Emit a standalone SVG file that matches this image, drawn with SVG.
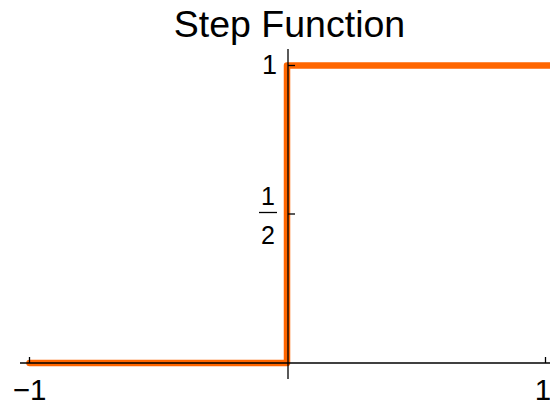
<svg xmlns="http://www.w3.org/2000/svg" width="550" height="407" viewBox="0 0 550 407">
<style>
text{font-family:"Liberation Sans",Arial,sans-serif;fill:#000}
.ax{stroke:#000;stroke-width:1.3;fill:none}
.curve{stroke:#FF6600;stroke-width:6.5;fill:none;stroke-linejoin:round;stroke-linecap:round}
</style>
<rect width="550" height="407" fill="#fff"/>
<text id="title" x="289.5" y="37" font-size="37.5" text-anchor="middle">Step Function</text>
<g id="curve">
<polyline class="curve" points="29.5,363 287,363 287,65.5 556,65.5"/>
</g>
<g id="axes">
<line class="ax" x1="20" y1="363" x2="550" y2="363"/>
<line class="ax" x1="288" y1="49" x2="288" y2="379"/>
<line class="ax" x1="29.5" y1="357" x2="29.5" y2="363"/>
<line class="ax" x1="545.5" y1="357" x2="545.5" y2="363"/>
<line class="ax" x1="288" y1="65.5" x2="295" y2="65.5"/>
<line class="ax" x1="288" y1="214" x2="295" y2="214"/>
</g>
<g id="labels">
<text x="29.5" y="400" font-size="29.5" text-anchor="middle">−1</text>
<text x="543" y="400" font-size="29.5" text-anchor="middle">1</text>
<text x="277" y="74" font-size="27" text-anchor="end">1</text>
<text x="268" y="205" font-size="25" text-anchor="middle">1</text>
<line class="ax" x1="259" y1="212.5" x2="277" y2="212.5" stroke-width="1.5"/>
<text x="268" y="243.5" font-size="25" text-anchor="middle">2</text>
</g>
</svg>
